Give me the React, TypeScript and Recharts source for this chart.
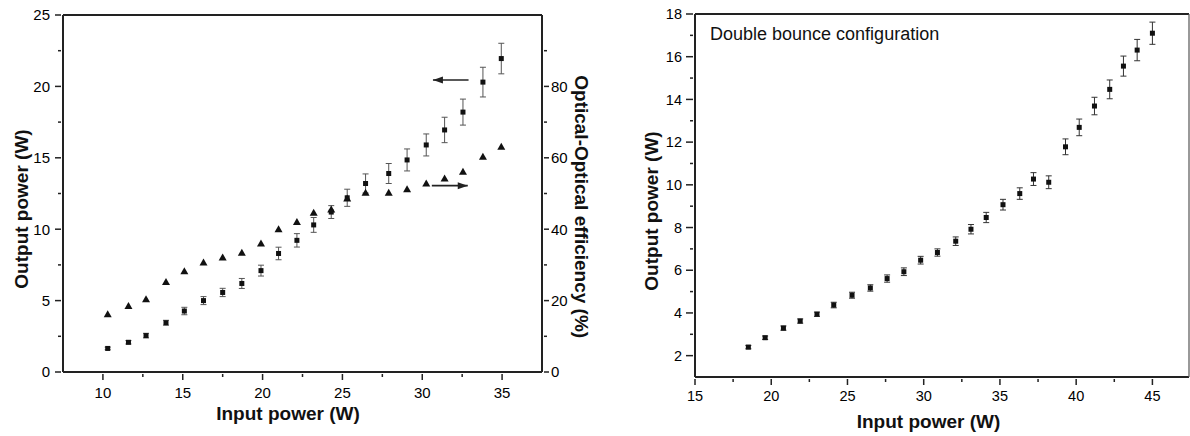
import React from 'react'
import { ScatterChart, Scatter, XAxis, YAxis, ErrorBar, ReferenceLine } from 'recharts'

// left panel: output power (W) and optical-optical efficiency (%) vs input power
const leftInput = [10.3, 11.6, 12.7, 13.95, 15.1, 16.3, 17.5, 18.7, 19.9, 21.0, 22.15, 23.2, 24.3, 25.3, 26.45, 27.9, 29.05, 30.25, 31.4, 32.55, 33.8, 34.95]
const leftOutput = [1.65, 2.08, 2.55, 3.45, 4.27, 5.0, 5.57, 6.2, 7.1, 8.3, 9.22, 10.3, 11.2, 12.2, 13.2, 13.9, 14.85, 15.9, 16.95, 18.2, 20.3, 21.95]
const leftOutputErr = [0.09, 0.12, 0.16, 0.17, 0.26, 0.28, 0.29, 0.35, 0.38, 0.44, 0.47, 0.52, 0.45, 0.6, 0.67, 0.7, 0.77, 0.77, 0.89, 0.91, 1.04, 1.07]
const leftEfficiency = [16.2, 18.5, 20.4, 25.2, 28.2, 30.7, 32.1, 33.4, 36.0, 40.0, 42.0, 44.6, 45.5, 48.6, 50.2, 50.2, 51.2, 52.8, 54.2, 56.1, 60.3, 63.1]

const leftXTicks = [10, 12.5, 15, 17.5, 20, 22.5, 25, 27.5, 30, 32.5, 35]
const leftYTicks = [0, 2.5, 5, 7.5, 10, 12.5, 15, 17.5, 20, 22.5, 25]
const effTicks = [0, 10, 20, 30, 40, 50, 60, 70, 80, 90]

// right panel: double bounce configuration
const rightInput = [18.5, 19.6, 20.8, 21.9, 23.0, 24.1, 25.3, 26.5, 27.6, 28.7, 29.8, 30.9, 32.1, 33.1, 34.1, 35.2, 36.3, 37.2, 38.2, 39.3, 40.2, 41.2, 42.2, 43.1, 44.0, 45.0]
const rightOutput = [2.4, 2.84, 3.29, 3.62, 3.94, 4.37, 4.83, 5.17, 5.61, 5.93, 6.47, 6.83, 7.36, 7.92, 8.47, 9.07, 9.59, 10.27, 10.12, 11.78, 12.69, 13.69, 14.47, 15.56, 16.31, 17.1]
const rightOutputErr = [0.08, 0.08, 0.1, 0.1, 0.1, 0.13, 0.14, 0.15, 0.17, 0.18, 0.18, 0.17, 0.2, 0.22, 0.24, 0.25, 0.27, 0.3, 0.3, 0.37, 0.39, 0.41, 0.44, 0.47, 0.5, 0.52]

const rightXTicks = [15, 17.5, 20, 22.5, 25, 27.5, 30, 32.5, 35, 37.5, 40, 42.5, 45]
const rightYTicks = [2, 3, 4, 5, 6, 7, 8, 9, 10, 11, 12, 13, 14, 15, 16, 17, 18]

const outputData = leftInput.map((x, i) => ({ x, y: leftOutput[i], err: leftOutputErr[i] }))
const effData = leftInput.map((x, i) => ({ x, y: leftEfficiency[i] }))
const doubleData = rightInput.map((x, i) => ({ x, y: rightOutput[i], err: rightOutputErr[i] }))

const FONT = '"Liberation Sans", Arial, sans-serif'
const AXIS = '#222'
const axisLine = { stroke: AXIS, strokeWidth: 2 }

// draws the tick mark and the label itself so minor ticks can be shorter
function makeTick(side: 'bottom' | 'left' | 'right' | 'top', isMajor: (v: number) => boolean, opts: { major: number; minor: number; gap: number; fontSize: number }) {
  return (props: any) => {
    const { x, y, payload } = props
    const v = payload.value
    const major = isMajor(v)
    const len = major ? opts.major : opts.minor
    const text = major ? String(v) : ''
    const common = { fontFamily: FONT, fontSize: opts.fontSize, fill: '#000', stroke: 'none' }
    if (side === 'bottom') {
      return (
        <g>
          <line x1={x} y1={y} x2={x} y2={y + len} stroke={AXIS} strokeWidth={1.5} />
          <text x={x} y={y + opts.gap} dy="0.36em" textAnchor="middle" {...common}>{text}</text>
        </g>
      )
    }
    if (side === 'top') {
      return <line x1={x} y1={y} x2={x} y2={y + len} stroke={AXIS} strokeWidth={1.5} />
    }
    if (side === 'left') {
      return (
        <g>
          <line x1={x} y1={y} x2={x - len} y2={y} stroke={AXIS} strokeWidth={1.5} />
          <text x={x - opts.gap} y={y} dy="0.36em" textAnchor="end" {...common}>{text}</text>
        </g>
      )
    }
    return (
      <g>
        <line x1={x} y1={y} x2={x + len} y2={y} stroke={AXIS} strokeWidth={1.5} />
        <text x={x + opts.gap} y={y} dy="0.36em" textAnchor="start" {...common}>{text}</text>
      </g>
    )
  }
}

const Square = (p: any) => <rect x={p.cx - 2.5} y={p.cy - 2.5} width={5} height={5} fill="#111" />
const Triangle = (p: any) => (
  <polygon points={`${p.cx},${p.cy - 4} ${p.cx + 4},${p.cy + 3} ${p.cx - 4},${p.cy + 3}`} fill="#111" />
)

const arrow = (headAtStart: boolean) => (p: any) => {
  const { x1, y1, x2, y2 } = p
  const hx = headAtStart ? x1 : x2
  const dir = headAtStart ? 1 : -1
  return (
    <g>
      <line x1={x1} y1={y1} x2={x2} y2={y2} stroke="#222" strokeWidth={1.6} />
      <polygon points={`${hx},${y1} ${hx + dir * 10},${y1 - 3.5} ${hx + dir * 10},${y1 + 3.5}`} fill="#222" />
    </g>
  )
}

function LeftPanel() {
  return (
    <ScatterChart width={600} height={436} margin={{ top: 15, right: 0, bottom: 0, left: 0 }}>
      <XAxis
        xAxisId="b"
        type="number"
        dataKey="x"
        domain={[7.5, 37.5]}
        ticks={leftXTicks}
        interval={0}
        height={64}
        tickSize={0}
        tickLine={false}
        stroke={AXIS}
        strokeWidth={2}
        axisLine={axisLine}
        tick={makeTick('bottom', (v) => v % 5 === 0, { major: 6, minor: 3, gap: 19, fontSize: 15 })}
      />
      <XAxis
        xAxisId="t"
        orientation="top"
        mirror
        type="number"
        domain={[7.5, 37.5]}
        ticks={leftXTicks}
        interval={0}
        tickSize={0}
        tickLine={false}
        stroke={AXIS}
        strokeWidth={2}
        axisLine={axisLine}
        tick={makeTick('top', (v) => v % 5 === 0, { major: 8, minor: 5, gap: 0, fontSize: 15 })}
      />
      <YAxis
        yAxisId="out"
        type="number"
        dataKey="y"
        domain={[0, 25]}
        ticks={leftYTicks}
        interval={0}
        width={63}
        tickSize={0}
        tickLine={false}
        stroke={AXIS}
        strokeWidth={2}
        axisLine={axisLine}
        tick={makeTick('left', (v) => v % 5 === 0, { major: 6, minor: 3, gap: 11, fontSize: 15 })}
      />
      <YAxis
        yAxisId="eff"
        orientation="right"
        type="number"
        dataKey="y"
        domain={[0, 100]}
        ticks={effTicks}
        interval={0}
        width={58}
        tickSize={0}
        tickLine={false}
        stroke={AXIS}
        strokeWidth={2}
        axisLine={axisLine}
        tick={makeTick('right', (v) => v % 20 === 0, { major: 5, minor: 3, gap: 7, fontSize: 15 })}
      />
      <Scatter xAxisId="b" yAxisId="eff" data={effData} shape={Triangle} isAnimationActive={false} />
      <Scatter xAxisId="b" yAxisId="out" data={outputData} shape={Square} isAnimationActive={false}>
        <ErrorBar dataKey="err" direction="y" width={3} stroke="#555" strokeWidth={1} isAnimationActive={false} />
      </Scatter>
      <ReferenceLine
        xAxisId="b"
        yAxisId="out"
        segment={[{ x: 30.67, y: 20.45 }, { x: 32.9, y: 20.45 }]}
        shape={arrow(true)}
      />
      <ReferenceLine
        xAxisId="b"
        yAxisId="out"
        segment={[{ x: 30.6, y: 13.05 }, { x: 32.85, y: 13.05 }]}
        shape={arrow(false)}
      />
    </ScatterChart>
  )
}

function RightPanel() {
  return (
    <ScatterChart width={590} height={436} margin={{ top: 14, right: 1, bottom: 0, left: 0 }}>
      <XAxis
        xAxisId="b"
        type="number"
        dataKey="x"
        domain={[15, 47.4]}
        ticks={rightXTicks}
        interval={0}
        height={59}
        tickSize={0}
        tickLine={false}
        stroke={AXIS}
        strokeWidth={2}
        axisLine={axisLine}
        tick={makeTick('bottom', (v) => v % 5 === 0, { major: 6, minor: 3, gap: 17, fontSize: 14.5 })}
      />
      <XAxis xAxisId="t" orientation="top" mirror type="number" domain={[15, 47.4]} tick={false} tickLine={false} stroke={AXIS} strokeWidth={2} axisLine={axisLine} />
      <YAxis
        yAxisId="l"
        type="number"
        dataKey="y"
        domain={[1, 18]}
        ticks={rightYTicks}
        interval={0}
        width={95}
        tickSize={0}
        tickLine={false}
        stroke={AXIS}
        strokeWidth={2}
        axisLine={axisLine}
        tick={makeTick('left', (v) => v % 2 === 0, { major: 7, minor: 3, gap: 11, fontSize: 14.5 })}
      />
      <YAxis yAxisId="r" orientation="right" mirror type="number" domain={[1, 18]} tick={false} tickLine={false} stroke="#555" strokeWidth={1.2} axisLine={{ stroke: '#555', strokeWidth: 1.2 }} />
      <Scatter xAxisId="b" yAxisId="l" data={doubleData} shape={Square} isAnimationActive={false}>
        <ErrorBar dataKey="err" direction="y" width={3} stroke="#333" strokeWidth={1} isAnimationActive={false} />
      </Scatter>
    </ScatterChart>
  )
}

export default function App() {
  const title = { fontFamily: FONT, fontSize: 19, fontWeight: 700, fill: '#111', textAnchor: 'middle' as const, dominantBaseline: 'central' as const }
  return (
    <div style={{ position: 'absolute', left: 0, top: 0, width: 1190, height: 436, background: '#fff' }}>
      <div style={{ position: 'absolute', left: 0, top: 0 }}>
        <LeftPanel />
      </div>
      <div style={{ position: 'absolute', left: 600, top: 0 }}>
        <RightPanel />
      </div>
      <svg width={1190} height={436} style={{ position: 'absolute', left: 0, top: 0, pointerEvents: 'none' }}>
        <text {...title} transform="translate(21.7,209) rotate(-90)">Output power (W)</text>
        <text {...title} x={288} y={413}>Input power (W)</text>
        <text {...title} transform="translate(581.7,206.7) rotate(90)">Optical-Optical efficiency (%)</text>
        <text {...title} transform="translate(651.7,211) rotate(-90)">Output power (W)</text>
        <text {...title} x={928.5} y={421}>Input power (W)</text>
        <text x={710} y={39.5} fontFamily={FONT} fontSize={18} fill="#111">Double bounce configuration</text>
      </svg>
    </div>
  )
}
